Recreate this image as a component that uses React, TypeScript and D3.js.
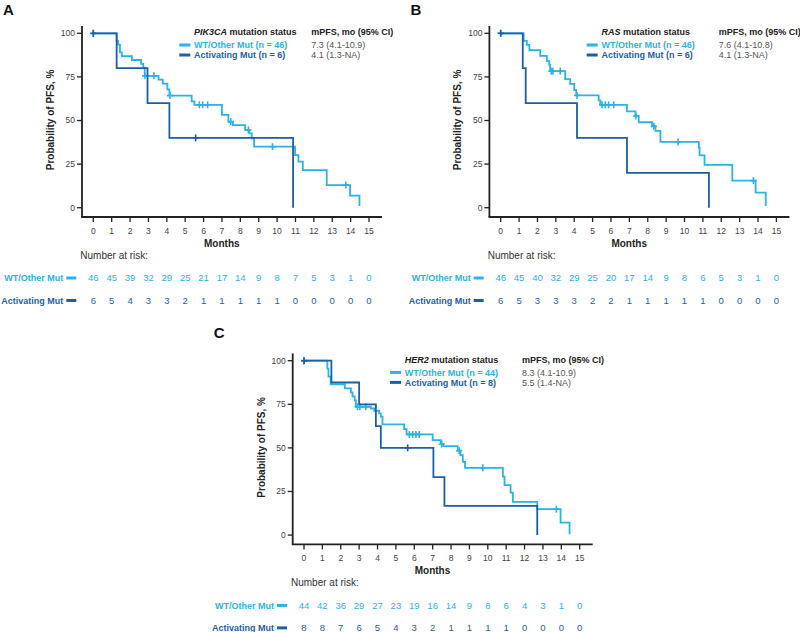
import React from 'react';
import * as d3 from 'd3';

const LIGHT = '#29b3e6';
const DARK = '#1c5fa5';
const FONT = '"Liberation Sans", Arial, Helvetica, sans-serif';

// axis ticks
const monthTicks = [0, 1, 2, 3, 4, 5, 6, 7, 8, 9, 10, 11, 12, 13, 14, 15];
const pctTicks = [0, 25, 50, 75, 100];
const groupNames = ['WT/Other Mut', 'Activating Mut'];

// Panel A - PIK3CA
const aWtTime = [0, 1.27, 1.35, 1.45, 1.55, 2.1, 2.6, 2.72, 2.8, 3.55, 3.78, 4.03, 4.14, 5.35, 5.5, 7.0, 7.35, 7.59, 8.26, 8.49, 8.62, 8.75, 10.98, 11.16, 11.4, 12.7, 13.97, 14.48];
const aWtSurv = [100, 95.7, 93.5, 89.1, 86.9, 84.7, 82.5, 80.3, 75.6, 73.4, 71.2, 67.8, 64.3, 61.0, 59.0, 53.2, 49.3, 47.4, 44.6, 42.6, 39.8, 35.0, 30.2, 26.4, 21.6, 13.0, 6.9, 1];
const aWtCens = [0, 2.81, 3.3, 4.17, 5.77, 5.95, 6.22, 7.48, 8.44, 9.75, 13.74];
const aActTime = [0, 1.27, 2.95, 4.14, 10.87];
const aActSurv = [100, 80, 60, 40, 0];
const aActCens = [0, 5.57];
const aRiskWt = [46, 45, 39, 32, 29, 25, 21, 17, 14, 9, 8, 7, 5, 3, 1, 0];
const aRiskAct = [6, 5, 4, 3, 3, 2, 1, 1, 1, 1, 1, 0, 0, 0, 0, 0];
const aLegend = ['WT/Other Mut (n = 46)', 'Activating Mut (n = 6)'];
const aMedian = ['7.3 (4.1-10.9)', '4.1 (1.3-NA)'];

// Panel B - RAS
const bWtTime = [0, 1.25, 1.42, 1.56, 2.15, 2.51, 2.64, 2.69, 3.51, 3.78, 4.0, 4.11, 5.33, 5.42, 6.87, 7.33, 7.51, 8.24, 8.42, 8.69, 10.78, 10.82, 11.09, 12.6, 13.87, 14.42];
const bWtSurv = [100, 95.6, 93.4, 90.4, 87, 84.1, 82, 78.3, 73.7, 71, 67.4, 64.4, 61.5, 59, 55.2, 52.6, 49, 46.7, 44, 37.7, 34.5, 30, 24.5, 15.5, 8.6, 1];
const bWtCens = [0, 2.75, 2.84, 3.24, 4.15, 5.51, 5.69, 5.87, 6.15, 7.36, 8.33, 9.65, 13.75];
const bActTime = [0, 1.2, 1.36, 4.15, 6.87, 11.33];
const bActSurv = [100, 80, 60, 40, 20, 0];
const bActCens = [0];
const bRiskWt = [46, 45, 40, 32, 29, 25, 20, 17, 14, 9, 8, 6, 5, 3, 1, 0];
const bRiskAct = [6, 5, 3, 3, 3, 2, 2, 1, 1, 1, 1, 1, 0, 0, 0, 0];
const bLegend = ['WT/Other Mut (n = 46)', 'Activating Mut (n = 6)'];
const bMedian = ['7.6 (4.1-10.8)', '4.1 (1.3-NA)'];

// Panel C - HER2
const cWtTime = [0, 1.27, 1.33, 1.45, 2.22, 2.55, 2.64, 2.76, 2.82, 3.64, 3.82, 4.09, 4.18, 4.27, 5.45, 5.58, 7.0, 7.45, 7.58, 8.36, 8.51, 8.64, 8.76, 10.82, 10.91, 11.24, 11.36, 12.69, 13.96, 14.45];
const cWtSurv = [100, 95.5, 90.9, 86.4, 84.1, 81.8, 79.5, 77.3, 73.6, 72.6, 71.3, 69.8, 67.9, 63.5, 60.8, 57.7, 54.5, 52.2, 51, 48.4, 45.9, 42, 38.6, 33.5, 28.7, 24.3, 19.1, 14.9, 7.1, 0.5];
const cWtCens = [0, 2.91, 3.04, 3.36, 5.73, 5.91, 6.09, 6.27, 7.49, 8.45, 9.73, 13.73];
const cActTime = [0, 1.49, 3.0, 3.91, 4.18, 7.04, 7.64, 12.69];
const cActSurv = [100, 87.5, 75, 62.5, 50, 33.3, 16.7, 0];
const cActCens = [0, 5.64];
const cRiskWt = [44, 42, 36, 29, 27, 23, 19, 16, 14, 9, 8, 6, 4, 3, 1, 0];
const cRiskAct = [8, 8, 7, 6, 5, 4, 3, 2, 1, 1, 1, 1, 0, 0, 0, 0];
const cLegend = ['WT/Other Mut (n = 44)', 'Activating Mut (n = 8)'];
const cMedian = ['8.3 (4.1-10.9)', '5.5 (1.4-NA)'];

// panel-local geometry
const X0 = 93.3;
const xScale = d3.scaleLinear().domain([0, 15]).range([X0, X0 + 275.7]);
const yScale = d3.scaleLinear().domain([0, 100]).range([207.7, 33.3]);
const AXIS_X = 82;
const AXIS_Y = 217;

const stepLine = d3.line<[number, number]>()
  .x(d => xScale(d[0]))
  .y(d => yScale(d[1]))
  .curve(d3.curveStepAfter);

const survAt = (times: number[], surv: number[], t: number) =>
  surv[Math.max(0, d3.bisectRight(times, t) - 1)];

const Curve = ({ times, surv, cens, color }) => {
  const pts = times.map((t, i) => [t, surv[i]] as [number, number]);
  return (
    <g>
      <path d={stepLine(pts) || ''} fill="none" stroke={color} strokeWidth={1.8} />
      {cens.map((t, i) => {
        const cx = xScale(t);
        const cy = yScale(survAt(times, surv, t));
        return (
          <g key={i} stroke={color} strokeWidth={1.6}>
            <line x1={cx} x2={cx} y1={cy - 3.5} y2={cy + 3.5} />
            <line x1={cx - 3} x2={cx + 3} y1={cy} y2={cy} />
          </g>
        );
      })}
    </g>
  );
};

const Panel = ({ dx, dy, letter, letterPos, gene, wt, act, riskWt, riskAct, legend, median }) => {
  const colors = [LIGHT, DARK];
  const risks = [riskWt, riskAct];
  return (
    <g transform={`translate(${dx},${dy})`} fontFamily={FONT}>
      <text x={letterPos[0]} y={letterPos[1]} fontSize={15} fontWeight="bold" fill="#111">{letter}</text>

      {/* axes */}
      <line x1={AXIS_X} x2={AXIS_X} y1={26} y2={AXIS_Y} stroke="#222" strokeWidth={1.8} />
      <line x1={AXIS_X - 0.9} x2={382} y1={AXIS_Y} y2={AXIS_Y} stroke="#222" strokeWidth={1.8} />
      {pctTicks.map(v => (
        <g key={v}>
          <line x1={AXIS_X - 5} x2={AXIS_X} y1={yScale(v)} y2={yScale(v)} stroke="#222" strokeWidth={1.3} />
          <text x={AXIS_X - 7} y={yScale(v)} dy="0.35em" textAnchor="end" fontSize={8.5} fill="#444">{v}</text>
        </g>
      ))}
      {monthTicks.map(m => (
        <g key={m}>
          <line x1={xScale(m)} x2={xScale(m)} y1={AXIS_Y} y2={AXIS_Y + 5} stroke="#222" strokeWidth={1.3} />
          <text x={xScale(m)} y={231} dy="0.35em" textAnchor="middle" fontSize={8.5} fill="#444">{m}</text>
        </g>
      ))}
      <text x={X0 + 128.5} y={243} dy="0.35em" textAnchor="middle" fontSize={10} fontWeight="bold" fill="#222">Months</text>
      <text transform={`translate(${X0 - 43},120) rotate(-90)`} dy="0.35em" textAnchor="middle" fontSize={10} fontWeight="bold" fill="#222">Probability of PFS, %</text>

      {/* curves */}
      <Curve {...wt} color={LIGHT} />
      <Curve {...act} color={DARK} />

      {/* legend */}
      <text x={X0 + 100.7} y={32} dy="0.35em" fontSize={9} fontWeight="bold" fill="#222">
        <tspan fontStyle="italic">{gene}</tspan> mutation status
      </text>
      <text x={X0 + 218} y={32} dy="0.35em" fontSize={9} fontWeight="bold" fill="#222">mPFS, mo (95% CI)</text>
      {legend.map((l, i) => (
        <g key={i}>
          <line x1={X0 + 86} x2={X0 + 97} y1={45 + i * 10} y2={45 + i * 10} stroke={colors[i]} strokeWidth={3} />
          <text x={X0 + 100.7} y={45 + i * 10} dy="0.35em" fontSize={9} fontWeight="bold" fill={colors[i]}>{l}</text>
          <text x={X0 + 218} y={45 + i * 10} dy="0.35em" fontSize={9} fill="#555">{median[i]}</text>
        </g>
      ))}

      {/* risk table */}
      <text x={X0 - 13} y={255} dy="0.35em" fontSize={10} fill="#333">Number at risk:</text>
      {risks.map((row, r) => {
        const y = 278 + r * 22.5;
        return (
          <g key={r}>
            <text x={X0 - 30} y={y} dy="0.35em" textAnchor="end" fontSize={9} fontWeight="bold" fill={colors[r]}>{groupNames[r]}</text>
            <line x1={X0 - 27} x2={X0 - 17} y1={y} y2={y} stroke={colors[r]} strokeWidth={3} />
            {row.map((n, i) => (
              <text key={i} x={xScale(monthTicks[i])} y={y} dy="0.35em" textAnchor="middle" fontSize={9.5} fill={colors[r]}>{n}</text>
            ))}
          </g>
        );
      })}
    </g>
  );
};

export default function App() {
  return (
    <svg width={800} height={632} style={{ position: 'absolute', left: 0, top: 0, background: '#fff' }}>
      <rect width={800} height={632} fill="#fff" />
      <Panel
        dx={0} dy={0} letter="A" letterPos={[3, 15]} gene="PIK3CA"
        wt={{ times: aWtTime, surv: aWtSurv, cens: aWtCens }}
        act={{ times: aActTime, surv: aActSurv, cens: aActCens }}
        riskWt={aRiskWt} riskAct={aRiskAct} legend={aLegend} median={aMedian}
      />
      <Panel
        dx={407.4} dy={0} letter="B" letterPos={[3, 15]} gene="RAS"
        wt={{ times: bWtTime, surv: bWtSurv, cens: bWtCens }}
        act={{ times: bActTime, surv: bActSurv, cens: bActCens }}
        riskWt={bRiskWt} riskAct={bRiskAct} legend={bLegend} median={bMedian}
      />
      <Panel
        dx={210.7} dy={327.4} letter="C" letterPos={[3, 11]} gene="HER2"
        wt={{ times: cWtTime, surv: cWtSurv, cens: cWtCens }}
        act={{ times: cActTime, surv: cActSurv, cens: cActCens }}
        riskWt={cRiskWt} riskAct={cRiskAct} legend={cLegend} median={cMedian}
      />
    </svg>
  );
}
